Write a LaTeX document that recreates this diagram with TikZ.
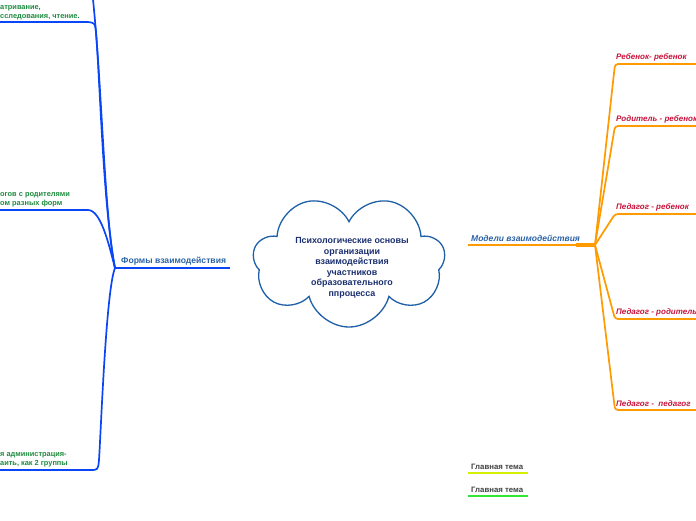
\documentclass[tikz,border=0pt]{standalone}
\usepackage{fontspec}
\setmainfont{Liberation Sans}
\usepackage{tikz}
\usetikzlibrary{positioning}
\usetikzlibrary{shapes.symbols}
\usepackage{xcolor}
\definecolor{lineblue}{HTML}{0A46F5}
\definecolor{cloudblue}{HTML}{1E5FA8}
\definecolor{navy}{HTML}{1A2F6E}
\definecolor{leafgreen}{HTML}{1E8A3E}
\definecolor{lineorange}{HTML}{FF9A00}
\definecolor{leafred}{HTML}{C8143C}
\definecolor{titleblue}{HTML}{2A62A6}
\definecolor{legyellow}{HTML}{D4F000}
\definecolor{leggreen}{HTML}{33E633}

\begin{document}
\begin{tikzpicture}[x=1pt, y=-1pt,
		t/.style = {font=\fontsize{7.4}{9}\selectfont\bfseries, inner sep=1pt, anchor=south west},
		g/.style = {t, text=leafgreen, align=left},
		rd/.style = {t, text=leafred, font=\fontsize{8}{9}\selectfont\bfseries\itshape},
		hd/.style = {t, text=titleblue, font=\fontsize{8.6}{10}\selectfont\bfseries},
		lg/.style = {t, text=black!75, font=\fontsize{7.8}{9}\selectfont\bfseries},
		bl/.style = {draw=lineblue, line width=1.7pt},
		or/.style = {draw=lineorange, line width=1.7pt, rounded corners=3pt}
		]
		\useasboundingbox (0,0) rectangle (696,520);
		\clip (0,0) rectangle (696,520);
		
		%Nodes
		\node[cloud, cloud puffs=7, cloud puff arc=150, rotate=180, draw=cloudblue, line width=1.3pt, minimum width=192, minimum height=132, inner sep=0pt] (main) at (349,261) {};
		\node[align=center, text=navy, font=\fontsize{8.9}{10.5}\selectfont\bfseries] (maintext) at (352,268) {Психологические основы\\организации\\взаимодействия\\участников\\образовательного\\ппроцесса};
		\node[hd]	(forms)	at	(120,266)	{Формы взаимодействия};
		\node[hd, font=\fontsize{8.5}{10}\selectfont\bfseries\itshape]	(models)	at	(470,243)	{Модели взаимодействия};
		\node[g]	(f2)	at	(-1,21)		{атривание,\\сследования, чтение.};
		\node[g]	(f3)	at	(-1,208)	{огов с родителями\\ом разных форм};
		\node[g]	(f4)	at	(-1,468)	{я администрация-\\аить, как 2 группы};
		\node[rd]	(m1)	at	(615,62)	{Ребенок- ребенок};
		\node[rd]	(m2)	at	(615,124)	{Родитель - ребенок};
		\node[rd]	(m3)	at	(615,212)	{Педагог - ребенок};
		\node[rd]	(m4)	at	(615,317)	{Педагог - родитель};
		\node[rd]	(m5)	at	(615,408)	{Педагог -\ \ педагог};
		\node[lg]	(leg1)	at	(470,471)	{Главная тема};
		\node[lg]	(leg2)	at	(470,494)	{Главная тема};
		
		%Points
		\coordinate	(fj)	at	(115,268);
		\coordinate	(fe)	at	(230,268);
		\coordinate	(f1)	at	(92,-10);
		\coordinate	(c2)	at	(96,32);
		\coordinate	(e2)	at	(-5,22);
		\coordinate	(e3)	at	(-5,210);
		\coordinate	(c4)	at	(99,460);
		\coordinate	(e4)	at	(-5,470);
		\coordinate	(ms)	at	(468,245);
		\coordinate	(mk)	at	(576,245);
		\coordinate	(mj)	at	(595,245);
		
		%Lines
		\draw[bl]	(fj)	--	(fe);
		\draw[bl]	(fj)	..	controls (104,215) and (102,80) ..	(f1);
		\draw[bl]	(fj)	..	controls (103,205) and (100,80) ..	(c2)	..	controls (95,23) ..	(88,22)	--	(e2);
		\draw[bl]	(fj)	..	controls (109,245) and (101,210) ..	(88,210)	--	(e3);
		\draw[bl]	(fj)	..	controls (106,290) and (101,430) ..	(c4)	..	controls (98,470) ..	(90,470)	--	(e4);
		\draw[or]	(ms)	--	(mj);
		\draw[or, line width=3.2pt]	(mk)	--	(mj);
		\foreach \n/\yy in {1/64, 2/126, 3/214, 4/319, 5/410}
			\draw[or]	(mj)	--	(615,\yy)	--	(700,\yy);
		\draw[draw=legyellow, line width=1.7pt]	(leg1.south west)	++(-2,2)	--	++(60,0);
		\draw[draw=leggreen, line width=1.7pt]	(leg2.south west)	++(-2,2)	--	++(60,0);
	\end{tikzpicture}
\end{document}
